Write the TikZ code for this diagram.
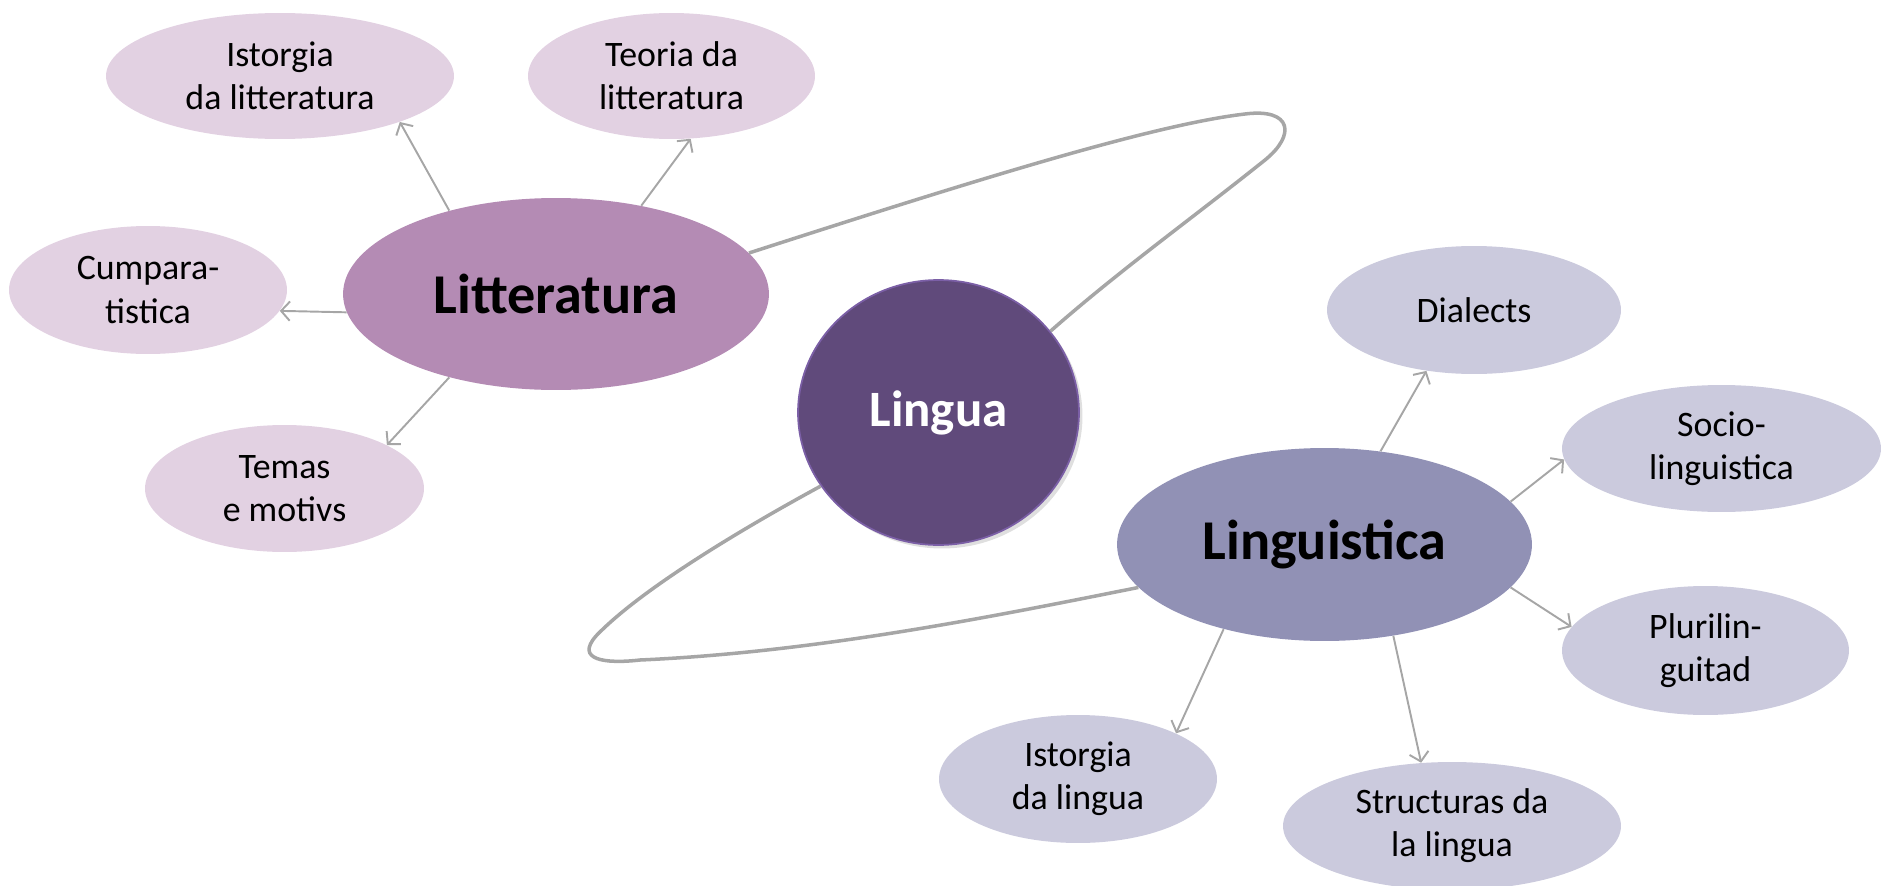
\documentclass[tikz,border=0pt]{standalone}
\usepackage{fontspec}
\setmainfont{Carlito}
\usetikzlibrary{shapes.geometric,arrows.meta,shadows}

\definecolor{litdark}{HTML}{B48BB4}
\definecolor{litlight}{HTML}{E2D1E2}
\definecolor{lingdark}{HTML}{9191B5}
\definecolor{linglight}{HTML}{CBCADD}
\definecolor{core}{HTML}{604A7B}
\definecolor{coreline}{HTML}{7B5FA6}
\definecolor{wire}{HTML}{A6A6A6}

\begin{document}
\begin{tikzpicture}[
x=0.02cm,y=-0.02cm,
bubble/.style={
  ellipse,
  draw=none,
  inner sep=0pt,
  align=center,
  font=\fontsize{20.4}{24.5}\selectfont
  },
litsub/.style={bubble,fill=litlight},
lingsub/.style={bubble,fill=linglight},
topic/.style={
  bubble,
  font=\fontsize{32}{38}\selectfont\bfseries
  },
arr/.style={->,draw=wire,line width=1.1pt},
loop/.style={draw=wire,line width=2pt},
>={Straight Barb[length=5pt,width=11pt]}
]
\useasboundingbox (0,0) rectangle (1881,886);

% literature side
\node[topic,fill=litdark,minimum width=8.52cm,minimum height=3.84cm] (lit) at (556,294) {Litteratura};
\node[litsub,minimum width=6.96cm,minimum height=2.52cm] (istlit) at (280,76) {Istorgia\\da litteratura};
\node[litsub,minimum width=5.74cm,minimum height=2.52cm] (teolit) at (671.5,76) {Teoria da\\litteratura};
\node[litsub,minimum width=5.56cm,minimum height=2.56cm] (cumpar) at (148,290) {Cumpara-\\tistica};
\node[litsub,minimum width=5.58cm,minimum height=2.54cm] (temas) at (284.5,488.5) {Temas\\e motivs};

% centre
\node[bubble,fill=core,draw=coreline,line width=1pt,text=white,
  font=\fontsize{29}{35}\selectfont\bfseries,
  drop shadow={opacity=0.25,shadow xshift=2pt,shadow yshift=-2pt},
  minimum width=5.62cm,minimum height=5.3cm] (lingua) at (938.5,412.5) {Lingua};

% linguistics side
\node[topic,fill=lingdark,minimum width=8.3cm,minimum height=3.86cm] (ling) at (1324.5,544.5) {Linguistica};
\node[lingsub,minimum width=5.88cm,minimum height=2.56cm] (dial) at (1474,310) {Dialects};
\node[lingsub,minimum width=6.38cm,minimum height=2.54cm] (socio) at (1721.5,448.5) {Socio-\\linguistica};
\node[lingsub,minimum width=5.74cm,minimum height=2.58cm] (pluri) at (1705.5,650.5) {Plurilin-\\guitad};
\node[lingsub,minimum width=5.56cm,minimum height=2.56cm] (istling) at (1078,779) {Istorgia\\da lingua};
\node[lingsub,minimum width=6.76cm,minimum height=2.56cm] (struct) at (1452,826) {Structuras da\\la lingua};

% branches
\foreach \n/\a/\b in {istlit/142.7/-21, teolit/46.6/-73.7, cumpar/185.5/-9.2, temas/218.3/23.8}
  \draw[arr] (lit.\a) -- (\n.\b);
\foreach \n/\a/\b in {dial/59.1/232.3, socio/13.9/184.6, pluri/-13.1/170.3, istling/220.4/25.4, struct/-53/116.9}
  \draw[arr] (ling.\a) -- (\n.\b);

% loops round the centre
\draw[loop] (lit.12.8) .. controls (960,185) and (1150,125) .. (1245,114)
  .. controls (1292,108) and (1296,135) .. (1265,160)
  .. controls (1190,220) and (1120,270) .. (lingua.36.8);
\draw[loop] (lingua.212.4) .. controls (740,530) and (640,590) .. (596,636)
  .. controls (575,660) and (605,664) .. (640,660)
  .. controls (820,652) and (1000,615) .. (ling.193.9);

\end{tikzpicture}
\end{document}
